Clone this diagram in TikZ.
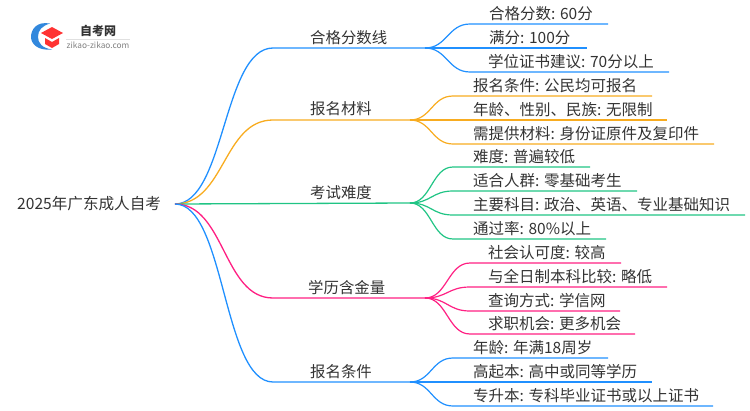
\documentclass[tikz,border=0pt]{standalone}
\usepackage{fontspec}
\setmainfont{Noto Sans CJK SC}
\usepackage{xcolor}
\usetikzlibrary{positioning,calc}
\definecolor{cblue}{HTML}{2090FF}
\definecolor{corange}{HTML}{F8AC20}
\definecolor{cgreen}{HTML}{20C484}
\definecolor{cpink}{HTML}{FF2083}
\definecolor{ctext}{HTML}{333333}
\tikzset{
  rootlabel/.style = {anchor = west, font = \fontsize{15.6}{16}\selectfont},
  mainlabel/.style = {anchor = west, font = \fontsize{15.4}{16}\selectfont},
  leaflabel/.style = {anchor = west, font = \fontsize{15.5}{16}\selectfont},
  mainline/.style = {line width = 1.3pt},
  leafline/.style = {line width = 1.2pt}
}
\newcommand{\sbend}[1]{.. controls +(#1,0) and +(-#1,0) ..}

\begin{document}
\begin{tikzpicture}[x = 1pt, y = -1pt, every node/.style={text = ctext, inner sep = 0pt}]
\useasboundingbox (0,0) rectangle (750,410);
% logo
\fill[cblue!85!black!90] (50,23.5) .. controls (36,21) and (31,30) .. (31,37) .. controls (31,44) and (38,51) .. (52,49.5) .. controls (42,48) and (38,43) .. (38,37) .. controls (38,30) and (42,26) .. (50,23.5) -- cycle;
\fill[red!80!white] (52,27) -- (63,33) -- (52,39) -- (41,33) -- cycle;
\fill[red!80!white] (45,38) -- (52,42) -- (59,38) -- (59,44) -- (52,48) -- (45,44) -- cycle;
\node[font = \fontsize{12}{12}\selectfont\bfseries] (logotext) at (98,30.5) {自考网};
\node[text = gray, font = \fontsize{8.3}{9}\selectfont] (logourl) at (98,45) {zikao-zikao.com};
\draw[black!12, line width = .5pt] (66,39) -- (130,39);
% root
\node[rootlabel] (root) at (17,204) {2025年广东成人自考};
\coordinate (r) at (175,204);
% branch 1
\node[mainlabel] (score) at (310,38) {合格分数线};
\coordinate (b1) at (273,48);
\coordinate (j1) at (425,48);
\node[leaflabel] (s1) at (489,14) {合格分数: 60分};
\node[leaflabel] (s2) at (489,38) {满分: 100分};
\node[leaflabel] (s3) at (488,62) {学位证书建议: 70分以上};
\coordinate (s1a) at (470,24);
\coordinate (s1b) at (608,24);
\coordinate (s3a) at (470,72);
\coordinate (s3b) at (669,72);
\coordinate (s2b) at (587,48);
\draw[cblue, mainline] (r) \sbend{50} (b1) -- (j1);
\draw[cblue, leafline] (j1) \sbend{22} (s1a) -- (s1b);
\draw[cblue, leafline] (j1) -- (s2b);
\draw[cblue, leafline] (j1) \sbend{22} (s3a) -- (s3b);
% branch 2
\node[mainlabel] (mater) at (310,109) {报名材料};
\coordinate (b2) at (273,120);
\coordinate (j2) at (410,120);
\node[leaflabel] (m1) at (473,86) {报名条件: 公民均可报名};
\node[leaflabel] (m2) at (473,110) {年龄、性别、民族: 无限制};
\node[leaflabel] (m3) at (473,134) {需提供材料: 身份证原件及复印件};
\coordinate (m1a) at (453,96);
\coordinate (m1b) at (652,96);
\coordinate (m2b) at (667,120);
\coordinate (m3a) at (453,144);
\coordinate (m3b) at (714,144);
\draw[corange, mainline] (r) \sbend{50} (b2) -- (j2);
\draw[corange, leafline] (j2) \sbend{21} (m1a) -- (m1b);
\draw[corange, leafline] (j2) -- (m2b);
\draw[corange, leafline] (j2) \sbend{21} (m3a) -- (m3b);
% branch 3
\node[mainlabel] (diffi) at (310,193) {考试难度};
\coordinate (j3) at (410,203);
\node[leaflabel] (d1) at (473,157) {难度: 普遍较低};
\node[leaflabel] (d2) at (473,181) {适合人群: 零基础考生};
\node[leaflabel] (d3) at (473,205) {主要科目: 政治、英语、专业基础知识};
\node[leaflabel] (d4) at (473,229) {通过率: 80\%以上};
\coordinate (d1a) at (453,167);
\coordinate (d1b) at (590,167);
\coordinate (d2a) at (453,191);
\coordinate (d2b) at (637,191);
\coordinate (d3a) at (453,215);
\coordinate (d3b) at (745,215);
\coordinate (d4a) at (453,239);
\coordinate (d4b) at (606,239);
\draw[cgreen, mainline] (r) -- (j3);
\draw[cgreen, leafline] (j3) \sbend{21} (d1a) -- (d1b);
\draw[cgreen, leafline] (j3) \sbend{21} (d2a) -- (d2b);
\draw[cgreen, leafline] (j3) \sbend{21} (d3a) -- (d3b);
\draw[cgreen, leafline] (j3) \sbend{21} (d4a) -- (d4b);
% branch 4
\node[mainlabel] (worth) at (308,288) {学历含金量};
\coordinate (b4) at (273,298);
\coordinate (j4) at (425,298);
\node[leaflabel] (w1) at (488,253) {社会认可度: 较高};
\node[leaflabel] (w2) at (488,277) {与全日制本科比较: 略低};
\node[leaflabel] (w3) at (488,301) {查询方式: 学信网};
\node[leaflabel] (w4) at (488,324) {求职机会: 更多机会};
\coordinate (w1a) at (470,263);
\coordinate (w1b) at (621,263);
\coordinate (w2a) at (470,287);
\coordinate (w2b) at (667,287);
\coordinate (w3a) at (470,311);
\coordinate (w3b) at (620,311);
\coordinate (w4a) at (470,334);
\coordinate (w4b) at (635,334);
\draw[cpink, mainline] (r) \sbend{50} (b4) -- (j4);
\draw[cpink, leafline] (j4) \sbend{22} (w1a) -- (w1b);
\draw[cpink, leafline] (j4) \sbend{22} (w2a) -- (w2b);
\draw[cpink, leafline] (j4) \sbend{22} (w3a) -- (w3b);
\draw[cpink, leafline] (j4) \sbend{22} (w4a) -- (w4b);
% branch 5
\node[mainlabel] (cond) at (310,372) {报名条件};
\coordinate (b5) at (273,382);
\coordinate (j5) at (410,382);
\node[leaflabel] (c1) at (473,348) {年龄: 年满18周岁};
\node[leaflabel] (c2) at (473,372) {高起本: 高中或同等学历};
\node[leaflabel] (c3) at (473,396) {专升本: 专科毕业证书或以上证书};
\coordinate (c1a) at (453,358);
\coordinate (c1b) at (608,358);
\coordinate (c2b) at (652,382);
\coordinate (c3a) at (453,406);
\coordinate (c3b) at (713,406);
\draw[cblue, mainline] (r) \sbend{50} (b5) -- (j5);
\draw[cblue, leafline] (j5) \sbend{21} (c1a) -- (c1b);
\draw[cblue, leafline] (j5) -- (c2b);
\draw[cblue, leafline] (j5) \sbend{21} (c3a) -- (c3b);
\end{tikzpicture}
\end{document}
